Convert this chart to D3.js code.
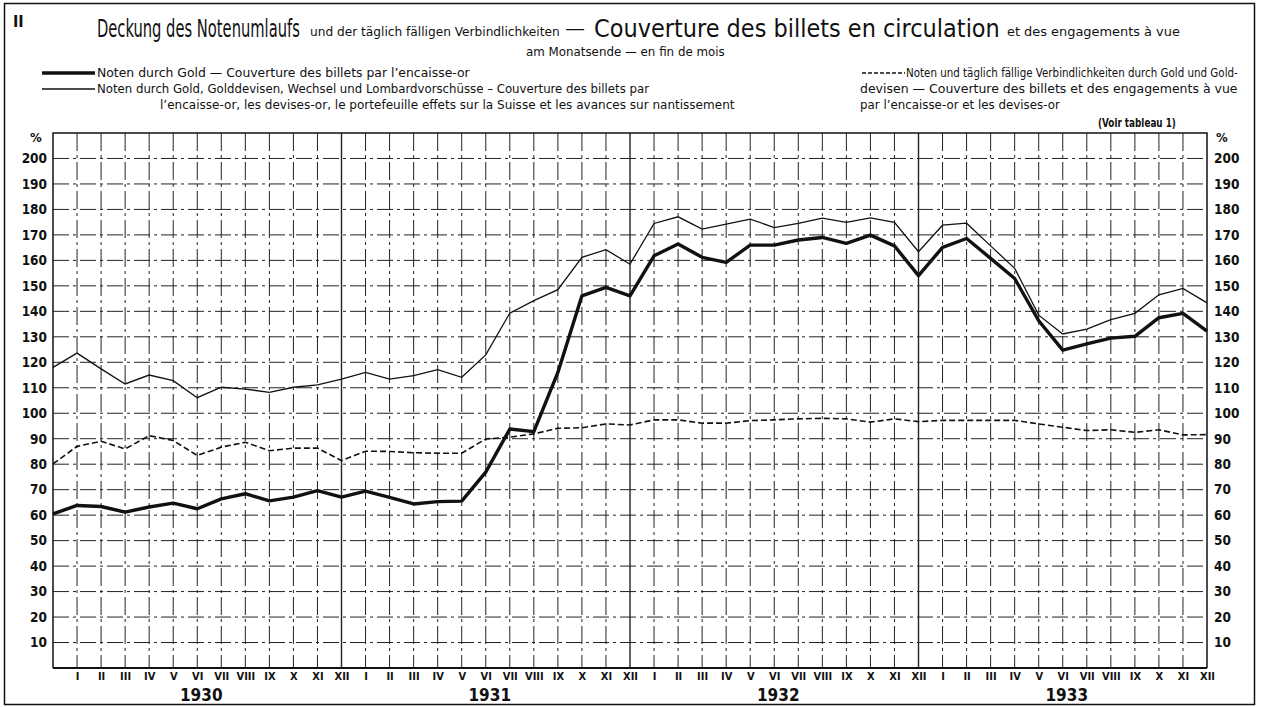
<!DOCTYPE html>
<html>
<head>
<meta charset="utf-8">
<script src="https://cdn.jsdelivr.net/npm/d3@7"></script>
<style>
  body { margin: 0; background: #fff; }
  svg text { font-family: "Liberation Sans Narrow", "DejaVu Sans Condensed", "Arial Narrow", sans-serif; fill: #111; }
</style>
</head>
<body>
<div id="app"></div>
<script>
// month-end values, first point = end of Dec 1929
let monthLabels = ['I', 'II', 'III', 'IV', 'V', 'VI', 'VII', 'VIII', 'IX', 'X', 'XI', 'XII'];
let years = ['1930', '1931', '1932', '1933'];
let yTicks = [10, 20, 30, 40, 50, 60, 70, 80, 90, 100, 110, 120, 130, 140, 150, 160, 170, 180, 190, 200];

let goldCover = [60.5,
  63.8, 63.4, 61.2, 63.2, 64.7, 62.5, 66.4, 68.4, 65.6, 67.1, 69.6, 67.1,
  69.4, 67, 64.4, 65.3, 65.5, 76.9, 93.8, 92.8, 116, 146.1, 149.4, 146.1,
  161.8, 166.4, 161.2, 159.2, 166, 166, 168, 169, 166.7, 169.9, 165.7, 154,
  165.1, 168.6, 160.8, 152.9, 136.3, 124.8, 127.2, 129.5, 130.2, 137.5, 139.2, 132.2];

let totalCover = [118,
  123.6, 117.4, 111.5, 115, 112.8, 106.1, 110.2, 109.5, 108.2, 110.2, 111.1, 113.4,
  116, 113.4, 114.8, 117.1, 114.1, 122.9, 139.3, 144.2, 148.5, 161.2, 164.2, 158.5,
  174.5, 177.1, 172.3, 174.2, 176.2, 172.9, 174.5, 176.6, 174.9, 176.7, 174.9, 163.4,
  173.8, 174.6, 165.7, 156.9, 138.5, 131.1, 133, 136.7, 139.2, 146.5, 149, 143.3];

let sightCover = [80.1,
  87, 89, 86, 91.2, 89.3, 83.4, 86.7, 88.6, 85.3, 86.3, 86.3, 81.4,
  85.1, 85, 84.5, 84.3, 84.3, 89.9, 90.6, 91.9, 94.1, 94.3, 95.8, 95.4,
  97.4, 97.4, 96.1, 96.1, 97.1, 97.4, 97.8, 98, 97.8, 96.5, 97.8, 96.7,
  97.2, 97.2, 97.2, 97.2, 95.8, 94.5, 93.2, 93.5, 92.5, 93.5, 91.5, 91.6];

let width = 1263;
let height = 707;
let pLeft = 53, pRight = 1207, pTop = 133, pBottom = 668;

let svg = d3.select('#app').append('svg')
  .attr('width', width)
  .attr('height', height)
  .style('display', 'block');

let xScale = d3.scaleLinear()
  .domain([0, goldCover.length - 1])
  .range([pLeft, pRight]);

let yScale = d3.scaleLinear()
  .domain([0, 210])
  .range([pBottom, pTop]);

// outer frame
svg.append('rect')
  .attr('x', 4.5).attr('y', 3.5)
  .attr('width', 1250).attr('height', 701)
  .attr('fill', 'none')
  .attr('stroke', '#111')
  .attr('stroke-width', 1.5);

// grid
let grid = svg.append('g');
grid.selectAll('line.h')
  .data(yTicks)
  .enter().append('line')
    .attr('x1', pLeft).attr('x2', pRight)
    .attr('y1', d => yScale(d)).attr('y2', d => yScale(d))
    .attr('stroke', '#222')
    .attr('stroke-width', 1)
    .attr('stroke-dasharray', '16,4,3,4');

let monthIdx = d3.range(1, goldCover.length - 1);
grid.selectAll('line.v')
  .data(monthIdx)
  .enter().append('line')
    .attr('x1', d => xScale(d)).attr('x2', d => xScale(d))
    .attr('y1', pTop).attr('y2', pBottom)
    .attr('stroke', '#222')
    .attr('stroke-width', d => d % 12 == 0 ? 1.4 : 1)
    .attr('stroke-dasharray', d => d % 12 == 0 ? null : '18,4,3,4');

// plot border
svg.append('path')
  .attr('d', `M${pLeft},${pBottom}V${pTop}H${pRight}V${pBottom}`)
  .attr('fill', 'none')
  .attr('stroke', '#111')
  .attr('stroke-width', 1.5);
svg.append('line')
  .attr('x1', pLeft).attr('x2', pRight)
  .attr('y1', pBottom).attr('y2', pBottom)
  .attr('stroke', '#111')
  .attr('stroke-width', 2.2);

// series
let line = d3.line()
  .x((d, i) => xScale(i))
  .y(d => yScale(d));

svg.append('path')
  .datum(sightCover)
  .attr('d', line)
  .attr('fill', 'none')
  .attr('stroke', '#111')
  .attr('stroke-width', 1.6)
  .attr('stroke-dasharray', '6,3');

svg.append('path')
  .datum(totalCover)
  .attr('d', line)
  .attr('fill', 'none')
  .attr('stroke', '#111')
  .attr('stroke-width', 1.3);

svg.append('path')
  .datum(goldCover)
  .attr('d', line)
  .attr('fill', 'none')
  .attr('stroke', '#111')
  .attr('stroke-width', 3.4)
  .attr('stroke-linejoin', 'round');

// axes
let yLeft = d3.axisLeft(yScale).tickValues(yTicks).tickSize(0).tickPadding(6);
let yRight = d3.axisRight(yScale).tickValues(yTicks).tickSize(0).tickPadding(7);

svg.append('g')
  .attr('transform', `translate(${pLeft},0)`)
  .call(yLeft)
  .call(g => g.select('.domain').remove())
  .selectAll('text')
    .style('font-size', '13.5px')
    .style('font-weight', 'bold');

svg.append('g')
  .attr('transform', `translate(${pRight},0)`)
  .call(yRight)
  .call(g => g.select('.domain').remove())
  .selectAll('text')
    .style('font-size', '13.5px')
    .style('font-weight', 'bold');

let xAxis = d3.axisBottom(xScale)
  .tickValues(monthIdx.concat([goldCover.length - 1]))
  .tickFormat(d => monthLabels[(d - 1) % 12])
  .tickSize(0)
  .tickPadding(4);

svg.append('g')
  .attr('transform', `translate(0,${pBottom})`)
  .call(xAxis)
  .call(g => g.select('.domain').remove())
  .selectAll('text')
    .style('font-size', '11px')
    .style('font-weight', 'bold');

svg.selectAll('text.year')
  .data(years)
  .enter().append('text')
    .attr('x', (d, i) => xScale(i * 12 + 6.5) - 8)
    .attr('y', 701)
    .attr('text-anchor', 'middle')
    .style('font-size', '17px')
    .style('font-weight', 'bold')
    .text(d => d);

svg.append('text').attr('x', 30).attr('y', 142).style('font-size', '13px').style('font-weight', 'bold').text('%');
svg.append('text').attr('x', 1216).attr('y', 142).style('font-size', '13px').style('font-weight', 'bold').text('%');

// titles: squeeze each text horizontally to the width it has in the print
function label(x, y, size, txt, len, weight) {
  let t = svg.append('text')
    .attr('transform', `translate(${x},${y})`)
    .style('font-size', size + 'px')
    .style('font-weight', weight || 'normal')
    .text(txt);
  if (len) {
    let w = t.node().getComputedTextLength();
    t.attr('transform', `translate(${x},${y}) scale(${len / w},1)`);
  }
  return t;
}

label(13, 27, 16, 'II', null, 'bold');
label(97, 37, 25, 'Deckung des Notenumlaufs', 203);
label(310, 36, 12.5, 'und der täglich fälligen Verbindlichkeiten', 250);
label(565, 35, 20, '—', 20);
label(594, 37, 25, 'Couverture des billets en circulation', 406);
label(1007, 36, 12.5, 'et des engagements à vue', 173);
label(526, 56, 12.5, 'am Monatsende —  en fin de mois', 199);

// legend
svg.append('line').attr('x1', 42).attr('x2', 95).attr('y1', 73).attr('y2', 73)
  .attr('stroke', '#111').attr('stroke-width', 3.4);
svg.append('line').attr('x1', 42).attr('x2', 95).attr('y1', 89).attr('y2', 89)
  .attr('stroke', '#111').attr('stroke-width', 1.3);
svg.append('line').attr('x1', 862).attr('x2', 905).attr('y1', 73).attr('y2', 73)
  .attr('stroke', '#111').attr('stroke-width', 1.6).attr('stroke-dasharray', '4,2');

label(97, 77, 12.5, 'Noten durch Gold — Couverture des billets par l\u2019encaisse-or', 373);
label(97, 93, 12.5, 'Noten durch Gold, Golddevisen, Wechsel und Lombardvorschüsse – Couverture des billets par', 553);
label(160, 109, 12.5, 'l\u2019encaisse-or, les devises-or, le portefeuille effets sur la Suisse et les avances sur nantissement', 575);
label(906, 77, 12.5, 'Noten und täglich fällige Verbindlichkeiten durch Gold und Gold-', 332);
label(860, 93, 12.5, 'devisen — Couverture des billets et des engagements à vue', 378);
label(860, 109, 12.5, 'par l\u2019encaisse-or et les devises-or', 200);
label(1098, 127, 12, '(Voir tableau 1)', 78, 'bold');
</script>
</body>
</html>
